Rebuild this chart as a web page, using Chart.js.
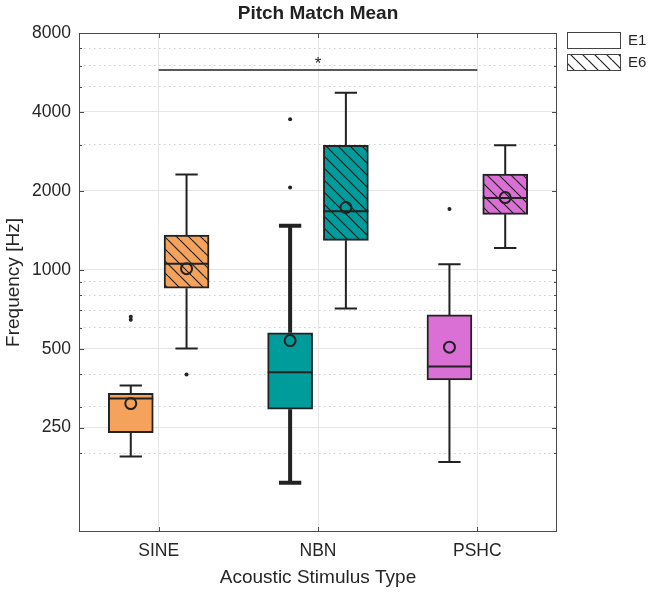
<!DOCTYPE html>
<html>
<head>
<meta charset="utf-8">
<title>Pitch Match Mean</title>
<script src="https://cdn.jsdelivr.net/npm/chart.js@4"></script>
<style>
  body { margin: 0; background: #fff; }
</style>
</head>
<body>
<canvas id="chart" width="650" height="597"></canvas>
<script>
// Pitch match box plots, E1 vs E6, per stimulus type

const categories = ['SINE', 'NBN', 'PSHC'];
const sessions = ['E1', 'E6'];

// E1 box statistics (Hz)
const e1Min = [194, 154, 185];
const e1Q1 = [239, 294, 380];
const e1Median = [323, 407, 428];
const e1Q3 = [338, 575, 673];
const e1Max = [362, 1471, 1049];
const e1Mean = [309, 537, 507];
const e1Outliers = [[645, 662], [2059, 3748], [1706]];

// E6 box statistics (Hz)
const e6Min = [501, 712, 1210];
const e6Q1 = [851, 1295, 1627];
const e6Median = [1055, 1671, 1879];
const e6Q3 = [1357, 2981, 2320];
const e6Max = [2308, 4731, 2987];
const e6Mean = [1010, 1728, 1885];
const e6Outliers = [[399], [], []];

// y axis
const yTicks = [250, 500, 1000, 2000, 4000, 8000];
const yMinorTicks = [200, 300, 400, 600, 700, 800, 900, 3000, 5000, 6000, 7000];

// significance bracket between SINE and PSHC
const sigFrom = 1;
const sigTo = 3;
const sigLevel = 5780;

// layout / style constants
const colors = ['#f5a25d', '#009b9b', '#da6fd6'];
const groupOffset = [-0.175, 0.175];
const halfBox = 0.141;
const halfCap = 0.07;
const whiskerWidths = [[2, 4, 2], [2, 2, 2]];
const ink = '#262626';

Chart.defaults.font.family = '"Liberation Sans", Arial, sans-serif';
Chart.defaults.color = ink;

function hatch(bg) {
  const s = 12;
  const cv = document.createElement('canvas');
  cv.width = s;
  cv.height = s;
  const g = cv.getContext('2d');
  g.fillStyle = bg;
  g.fillRect(0, 0, s, s);
  g.strokeStyle = '#222';
  g.lineWidth = 1.2;
  g.beginPath();
  [-s, 0, s].forEach(k => {
    g.moveTo(k, 0);
    g.lineTo(k + s, s);
  });
  g.stroke();
  return g.createPattern(cv, 'repeat');
}

const groups = [
  { min: e1Min, q1: e1Q1, med: e1Median, q3: e1Q3, max: e1Max, mean: e1Mean, out: e1Outliers },
  { min: e6Min, q1: e6Q1, med: e6Median, q3: e6Q3, max: e6Max, mean: e6Mean, out: e6Outliers }
];

const datasets = [];

groups.forEach((g, gi) => {
  const xs = categories.map((c, i) => i + 1 + groupOffset[gi]);

  // boxes
  datasets.push({
    type: 'bar',
    label: sessions[gi],
    data: xs.map((x, i) => ({ x: x, y: [g.q1[i], g.q3[i]] })),
    backgroundColor: gi === 0 ? colors : colors.map(hatch),
    borderColor: '#222',
    borderWidth: 2,
    borderSkipped: false,
    barThickness: 45,
    grouped: false,
    order: 4
  });

  // whiskers and caps
  xs.forEach((x, i) => {
    datasets.push({
      type: 'line',
      data: [
        { x: x, y: g.q3[i] }, { x: x, y: g.max[i] }, { x: x, y: null },
        { x: x - halfCap, y: g.max[i] }, { x: x + halfCap, y: g.max[i] }, { x: x, y: null },
        { x: x, y: g.q1[i] }, { x: x, y: g.min[i] }, { x: x, y: null },
        { x: x - halfCap, y: g.min[i] }, { x: x + halfCap, y: g.min[i] }
      ],
      borderColor: '#222',
      borderWidth: whiskerWidths[gi][i],
      pointRadius: 0,
      spanGaps: false,
      order: 3
    });
  });

  // medians
  const medData = [];
  xs.forEach((x, i) => {
    medData.push({ x: x - halfBox, y: g.med[i] }, { x: x + halfBox, y: g.med[i] }, { x: x, y: null });
  });
  datasets.push({
    type: 'line',
    data: medData,
    borderColor: '#222',
    borderWidth: 2,
    pointRadius: 0,
    spanGaps: false,
    order: 2
  });

  // means
  datasets.push({
    type: 'line',
    data: xs.map((x, i) => ({ x: x, y: g.mean[i] })),
    showLine: false,
    pointStyle: 'circle',
    pointRadius: 5.5,
    pointBorderWidth: 2,
    pointBorderColor: '#222',
    pointBackgroundColor: 'rgba(0,0,0,0)',
    order: 1
  });

  // outliers
  const outData = [];
  xs.forEach((x, i) => g.out[i].forEach(v => outData.push({ x: x, y: v })));
  datasets.push({
    type: 'line',
    data: outData,
    showLine: false,
    pointRadius: 2,
    pointBorderWidth: 0,
    pointBackgroundColor: '#222',
    order: 1
  });
});

// significance line
datasets.push({
  type: 'line',
  data: [{ x: sigFrom, y: sigLevel }, { x: sigTo, y: sigLevel }],
  borderColor: '#222',
  borderWidth: 1.5,
  pointRadius: 0,
  order: 1
});

// frame, inward ticks, asterisk and legend
const decorations = {
  id: 'decorations',
  afterDraw(chart) {
    const { ctx, chartArea: a, scales: { x, y } } = chart;
    ctx.save();
    ctx.strokeStyle = '#4a4a4a';
    ctx.lineWidth = 1;
    ctx.strokeRect(a.left + 0.5, a.top + 0.5, a.right - a.left - 1, a.bottom - a.top - 1);

    ctx.beginPath();
    yTicks.concat(yMinorTicks).forEach(v => {
      const len = yTicks.includes(v) ? 5 : 3;
      const py = Math.round(y.getPixelForValue(v)) + 0.5;
      ctx.moveTo(a.left, py); ctx.lineTo(a.left + len, py);
      ctx.moveTo(a.right, py); ctx.lineTo(a.right - len, py);
    });
    categories.forEach((c, i) => {
      const px = Math.round(x.getPixelForValue(i + 1)) + 0.5;
      ctx.moveTo(px, a.bottom); ctx.lineTo(px, a.bottom - 5);
      ctx.moveTo(px, a.top); ctx.lineTo(px, a.top + 5);
    });
    ctx.stroke();

    // significance asterisk
    ctx.fillStyle = '#222';
    ctx.font = '17px "Liberation Sans", Arial, sans-serif';
    ctx.textAlign = 'center';
    ctx.textBaseline = 'middle';
    ctx.fillText('*', x.getPixelForValue((sigFrom + sigTo) / 2), y.getPixelForValue(sigLevel) - 6);

    // legend
    const lx = a.right + 10;
    const bw = 53, bh = 16;
    sessions.forEach((s, i) => {
      const ly = a.top - 1 + i * 22;
      ctx.fillStyle = i === 0 ? '#fff' : hatch('#fff');
      ctx.fillRect(lx, ly, bw, bh);
      ctx.strokeStyle = '#444';
      ctx.lineWidth = 1;
      ctx.strokeRect(lx + 0.5, ly + 0.5, bw, bh);
      ctx.fillStyle = ink;
      ctx.font = '15px "Liberation Sans", Arial, sans-serif';
      ctx.textAlign = 'left';
      ctx.fillText(s, lx + bw + 8, ly + bh / 2 + 1);
    });
    ctx.restore();
  }
};

new Chart(document.getElementById('chart'), {
  type: 'bar',
  data: { datasets: datasets },
  options: {
    responsive: false,
    animation: false,
    events: [],
    layout: { padding: { left: 0, right: 93, top: 0, bottom: 0 } },
    plugins: {
      legend: { display: false },
      tooltip: { enabled: false },
      title: {
        display: true,
        fullSize: false,
        text: 'Pitch Match Mean',
        color: '#222',
        font: { size: 19, weight: 'bold' },
        padding: { top: 2, bottom: 8.2 }
      }
    },
    scales: {
      x: {
        type: 'linear',
        min: 0.5,
        max: 3.5,
        offset: false,
        afterBuildTicks: s => { s.ticks = categories.map((c, i) => ({ value: i + 1 })); },
        afterFit: s => { s.height = 65; },
        ticks: {
          autoSkip: false,
          padding: 9,
          font: { size: 17.5 },
          callback: v => categories[v - 1]
        },
        grid: { color: '#e6e6e6', drawTicks: false, offset: false },
        border: { display: false },
        title: {
          display: true,
          text: 'Acoustic Stimulus Type',
          font: { size: 19 },
          padding: { top: 0, bottom: 7.6 }
        }
      },
      y: {
        type: 'logarithmic',
        min: 100,
        max: 8000,
        afterBuildTicks: s => {
          s.ticks = yTicks.concat(yMinorTicks).sort((p, q) => p - q).map(v => ({ value: v }));
        },
        afterFit: s => { s.width = 79; },
        ticks: {
          autoSkip: false,
          padding: 8,
          font: { size: 17.5 },
          callback: v => (yTicks.includes(v) ? String(v) : '')
        },
        grid: {
          drawTicks: false,
          color: c => (c.tick && yMinorTicks.includes(c.tick.value) ? '#cfcfcf' : '#e6e6e6')
        },
        border: {
          display: false,
          dash: c => (c.tick && yMinorTicks.includes(c.tick.value) ? [1.5, 3.5] : [])
        },
        title: {
          display: true,
          text: 'Frequency [Hz]',
          font: { size: 19 },
          padding: { top: 2.6, bottom: 0 }
        }
      }
    }
  },
  plugins: [decorations]
});
</script>
</body>
</html>
